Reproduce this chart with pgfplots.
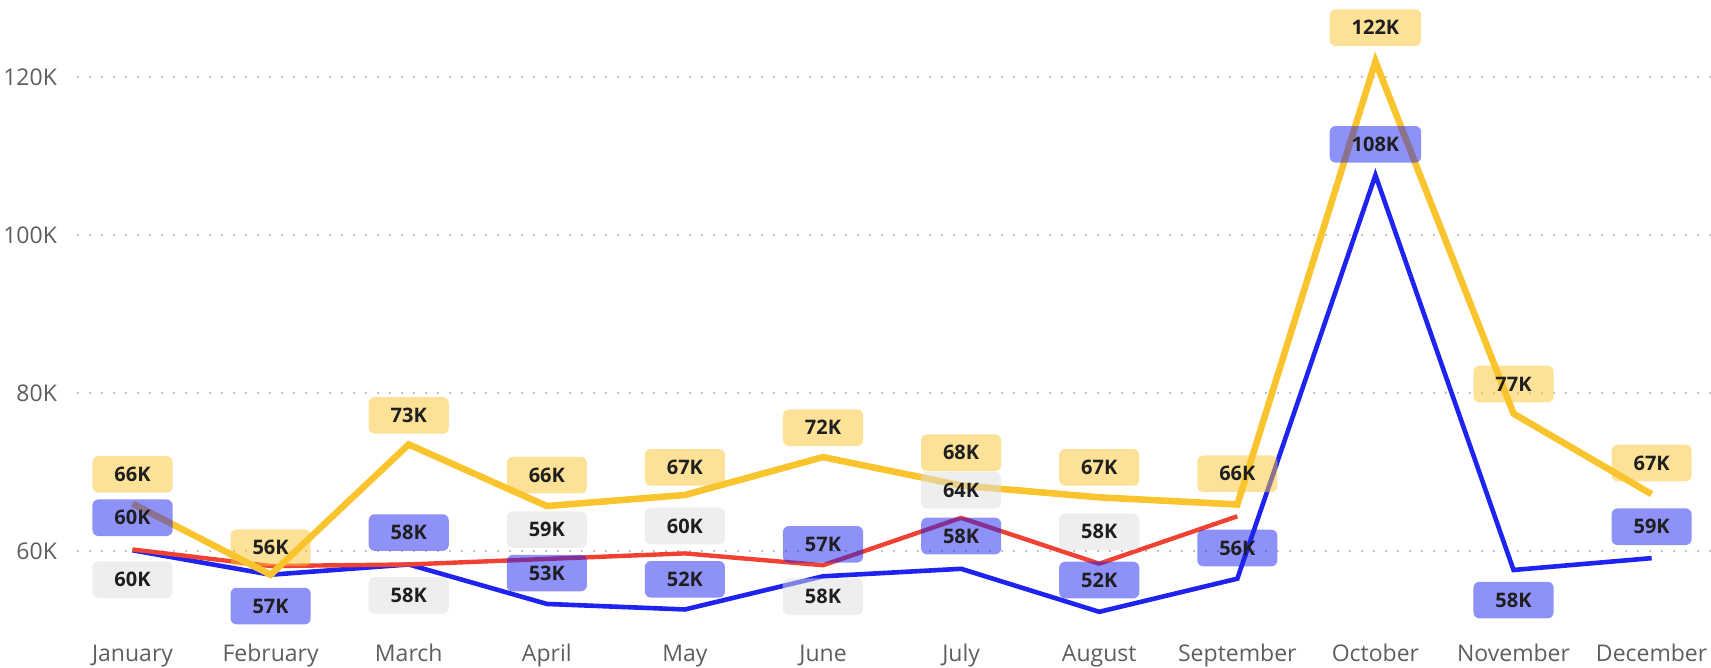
\documentclass[border=0pt]{standalone}
\usepackage{pgfplots}
\pgfplotsset{compat=1.18}
\usepackage{fontspec}
\setmainfont{Open Sans}
\definecolor{yel}{RGB}{250,196,46}
\definecolor{blu}{RGB}{30,35,240}
\definecolor{redl}{RGB}{240,65,50}
\definecolor{gry}{RGB}{222,222,222}
\definecolor{tickc}{RGB}{96,94,92}
\definecolor{gridc}{RGB}{195,195,195}
\pgfplotsset{
  lbl/.style={draw=none, mark=none, point meta=explicit symbolic, nodes near coords,
    nodes near coords style={anchor=center, font=\fontsize{10}{12}\selectfont\bfseries,
      text=black!88, fill=#1, fill opacity=0.5, text opacity=1, rounded corners=3pt,
      inner xsep=11pt, inner ysep=0pt, minimum height=18.3pt}}
}
\begin{document}
\begin{tikzpicture}
\useasboundingbox (0,0) rectangle (855.5pt,334pt);
\begin{axis}[
  at={(38.5pt,19pt)}, anchor=south west,
  scale only axis, width=817pt, height=315pt,
  xmin=-0.402, xmax=11.43, ymin=50, ymax=129.79,
  axis line style={draw=none}, major tick length=0pt,
  xtick={0,1,2,3,4,5,6,7,8,9,10,11},
  xticklabels={January,February,March,April,May,June,July,August,September,October,November,December},
  ytick={60,80,100,120}, yticklabels={60K,80K,100K,120K},
  ymajorgrids, xmajorgrids=false,
  major grid style={gridc, line width=1pt, dash pattern=on 1pt off 5pt},
  tick label style={font=\fontsize{11.5}{13}\selectfont, text=tickc},
  x tick label style={anchor=base, inner sep=0pt, yshift=-15.85pt},
  y tick label style={anchor=east, inner sep=0pt, xshift=-9.85pt},
  clip=false,
]
% lines
\addplot[blu, line width=2.3pt, mark=none] coordinates {
 (0,60.1) (1,57.0) (2,58.3) (3,53.3) (4,52.6) (5,56.8) (6,57.75) (7,52.3) (8,56.5) (9,107.6) (10,57.6) (11,59.1)};
\addplot[redl, line width=2.2pt, mark=none] coordinates {
 (0,60.2) (1,58.1) (2,58.3) (3,59.0) (4,59.7) (5,58.2) (6,64.2) (7,58.4) (8,64.4)};
\addplot[yel, line width=3.3pt, mark=none] coordinates {
 (0,66.0) (1,57.0) (2,73.5) (3,65.7) (4,67.1) (5,71.9) (6,68.3) (7,66.8) (8,65.9) (9,122.0) (10,77.4) (11,67.2)};
% labels
\addplot[lbl=gry] table[row sep=\\, meta=l] {
x y l \\
0 56.36 60K \\
2 54.39 58K \\
3 62.71 59K \\
4 63.17 60K \\
5 54.21 58K \\
6 67.73 64K \\
7 62.44 58K \\
};
\addplot[lbl=blu] table[row sep=\\, meta=l] {
x y l \\
0 64.22 60K \\
1 53.03 57K \\
2 62.34 58K \\
3 57.21 53K \\
4 56.42 52K \\
5 60.85 57K \\
6 61.90 58K \\
7 56.33 52K \\
8 60.38 56K \\
9 111.51 108K \\
10 53.79 58K \\
11 63.08 59K \\
};
\addplot[lbl=yel] table[row sep=\\, meta=l] {
x y l \\
0 69.71 66K \\
1 60.42 56K \\
2 77.18 73K \\
3 69.61 66K \\
4 70.60 67K \\
5 75.62 72K \\
6 72.45 68K \\
7 70.60 67K \\
8 69.79 66K \\
9 126.28 122K \\
10 81.15 77K \\
11 71.15 67K \\
};
\end{axis}
\end{tikzpicture}
\end{document}
